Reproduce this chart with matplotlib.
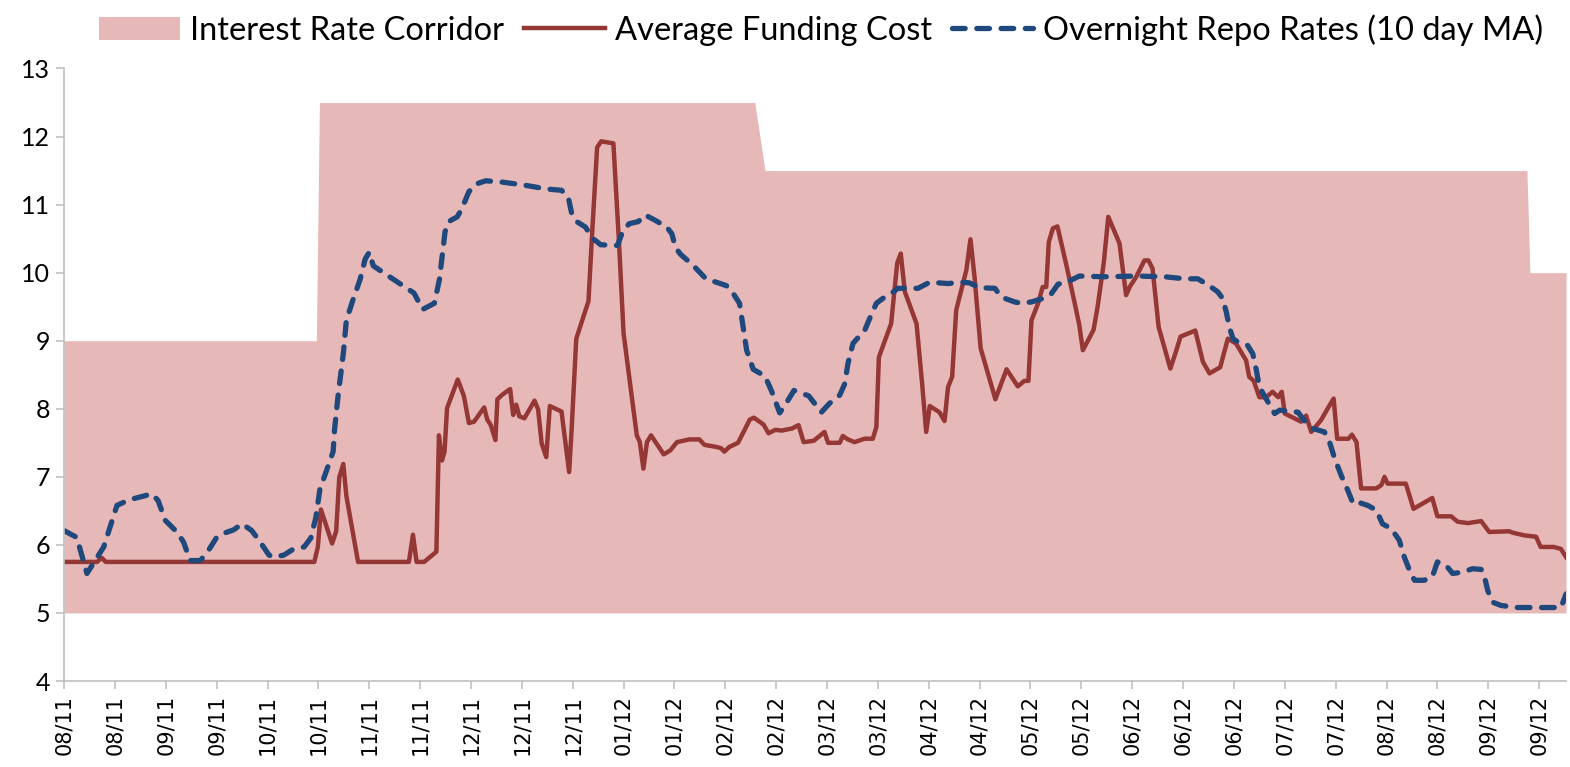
import matplotlib
matplotlib.use("Agg")
import matplotlib.pyplot as plt

# business-day index (tick every 10 points)
tick_labels = ["08/11", "08/11", "09/11", "09/11", "10/11", "10/11", "11/11", "11/11",
               "12/11", "12/11", "12/11", "01/12", "01/12", "02/12", "02/12", "03/12",
               "03/12", "04/12", "04/12", "05/12", "05/12", "06/12", "06/12", "06/12",
               "07/12", "07/12", "08/12", "08/12", "09/12", "09/12"]

corr_x = [0, 49.6, 50.2, 135.8, 137.8, 287.6, 288.2, 295.3]
corr_hi = [9, 9, 12.5, 12.5, 11.5, 11.5, 10, 10]
corr_lo = [5, 5, 5, 5, 5, 5, 5, 5]

fund_x = [0, 6.5, 7.4, 8.2, 49.2, 49.9, 50.5, 52.7, 53.5, 54.1, 54.9, 55.5, 57.8, 67.8, 68.6,
          69.3, 70.8, 73.2, 73.7, 74.3, 74.8, 75.3, 77.4, 78.6, 79.6, 80.6, 82.6, 83.2, 83.9,
          84.8, 85.2, 86.2, 87.7, 88.3, 88.9, 89.5, 90.5, 92.5, 93.2, 93.9, 94.8, 95.5, 97.8,
          99.3, 99.8, 100.7, 103.1, 103.8, 104.8, 105.6, 108, 109.1, 110, 112.6, 113.2, 113.9,
          114.6, 115.4, 117.9, 119.2, 120.5, 122.9, 124.9, 125.9, 128.2, 129.2, 129.8, 130.8,
          132.5, 133.8, 134.8, 135.6, 137.5, 138.5, 139.8, 141.1, 143.1, 144.4, 145.4, 147.4,
          149.5, 150.2, 152.5, 153.1, 154.1, 155.4, 157.4, 159.0, 159.7, 160.2, 162.6, 163.8,
          164.5, 165.3, 167.6, 168.7, 169.5, 170.2, 172.1, 173.1, 173.8, 174.6, 175.4, 177.4,
          178.2, 179.0, 180.2, 183.1, 185.3, 187.5, 188.8, 189.6, 190.2, 191.5, 192.4, 193.1,
          193.6, 194.4, 195.3, 197.0, 198.7, 199.6, 200.3, 202.4, 203.2, 204.4, 205.3, 207.5,
          208.8, 209.5, 210.8, 212.4, 213.2, 214.0, 215.2, 217.5, 218.6, 219.5, 222.4, 223.9,
          225.2, 227.3, 228.8, 230.4, 232.4, 233.0, 233.9, 235.0, 236.3, 237.6, 238.7, 239.4,
          240.0, 241.9, 243.2, 244.2, 245.2, 247.1, 248.4, 249.6, 250.3, 252.5, 253.2, 254.1,
          255.0, 258.0, 259.0, 259.6, 260.2, 263.8, 265.3, 269.0, 270.0, 272.7, 274.0, 276.0,
          278.6, 280.2, 284.1, 284.8, 287.1, 289.4, 290.3, 292.9, 294.3, 295.3]
fund_y = [5.75, 5.75, 5.81, 5.75, 5.75, 5.97, 6.52, 6.02, 6.2, 6.99, 7.19, 6.72, 5.75, 5.75, 6.15,
          5.75, 5.75, 5.90, 7.61, 7.24, 7.37, 8.01, 8.43, 8.19, 7.79, 7.81, 8.02, 7.84, 7.76,
          7.54, 8.14, 8.21, 8.29, 7.91, 8.06, 7.89, 7.86, 8.12, 7.99, 7.49, 7.29, 8.04, 7.96,
          7.07, 7.71, 9.03, 9.58, 10.55, 11.84, 11.93, 11.90, 10.45, 9.11, 7.61, 7.51, 7.12,
          7.51, 7.61, 7.33, 7.39, 7.51, 7.55, 7.55, 7.47, 7.44, 7.42, 7.37, 7.44,
          7.50, 7.69, 7.84, 7.87, 7.77, 7.64, 7.69, 7.68, 7.71, 7.76, 7.51, 7.53,
          7.66, 7.50, 7.50, 7.60, 7.55, 7.51, 7.56, 7.56, 7.73, 8.76, 9.25, 10.14,
          10.28, 9.72, 9.25, 8.37, 7.66, 8.04, 7.95, 7.82, 8.32, 8.47, 9.45, 10.04,
          10.49, 9.94, 8.89, 8.14, 8.58, 8.33, 8.41, 8.41, 9.30, 9.55, 9.79, 9.79,
          10.45, 10.65, 10.68, 10.13, 9.55, 9.23, 8.86, 9.16, 9.50, 10.14, 10.82, 10.43,
          9.67, 9.79, 9.94, 10.18, 10.18, 10.06, 9.20, 8.59, 8.84, 9.06, 9.15, 8.69,
          8.52, 8.61, 9.03, 8.96, 8.71, 8.47, 8.41, 8.17, 8.17, 8.25, 8.17, 8.25,
          7.93, 7.86, 7.81, 7.90, 7.66, 7.83, 8.00, 8.15, 7.56, 7.56, 7.62, 7.51,
          6.83, 6.83, 6.88, 7.0, 6.90, 6.90, 6.53, 6.69, 6.42, 6.42, 6.34, 6.32,
          6.35, 6.19, 6.20, 6.18, 6.14, 6.12, 5.97, 5.97, 5.94, 5.82]

repo_x = [0, 2.5, 4.5, 7.8, 10.4, 12.7, 17.3, 18.5, 19.9, 22.2, 23.5, 24.8, 26.8, 28.4, 30.0,
          31.0, 33.3, 35.0, 36.9, 38.3, 40.3, 41.2, 43.2, 44.9, 47.2, 48.5, 49.5, 50.3, 51.5,
          52.9, 53.2, 53.9, 54.9, 55.5, 56.8, 58.2, 59.2, 60.0, 60.8, 64.8, 66.8, 68.8, 70.5,
          72.8, 73.8, 74.9, 75.6, 77.3, 78.2, 79.6, 80.9, 82.9, 86.2, 90.2, 94.8, 97.8, 99.1,
          99.8, 100.8, 102.5, 104.0, 105.5, 108.8, 109.8, 111.1, 112.9, 114.2, 116.2, 118.5,
          119.5, 120.2, 121.2, 123.5, 126.2, 130.2, 131.5, 132.8, 133.5, 134.2, 135.5, 137.8,
          139.1, 140.7, 141.8, 143.5, 146.4, 148.9, 150.5, 152.5, 153.5, 154.1, 155.1, 155.8,
          157.4, 158.4, 159.7, 161.3, 162.6, 163.9, 167.9, 170.2, 173.8, 176.4, 178.0, 180.0,
          183.0, 184.3, 186.9, 188.2, 190.2, 192.4, 194.1, 195.4, 197.7, 199.6, 204.5, 211.0,
          216.4, 220.3, 222.9, 224.9, 226.8, 227.8, 228.5, 229.1, 229.8, 230.8, 232.7, 233.7,
          234.4, 235.0, 236.3, 238.0, 239.0, 242.6, 243.8, 245.5, 247.8, 248.8, 249.8, 251.1,
          252.4, 253.4, 254.3, 256.3, 258.0, 259.2, 260.9, 262.5, 263.5, 264.5, 265.5, 267.4,
          269.0, 270.0, 271.7, 273.0, 275.0, 276.9, 278.6, 279.2, 279.9, 280.8, 282.5, 285.8,
          294.3, 295.3]
repo_y = [6.21, 6.11, 5.58, 5.97, 6.58, 6.66, 6.75, 6.65, 6.36, 6.19, 6.04, 5.77, 5.77, 5.92, 6.11,
          6.16, 6.22, 6.31, 6.21, 6.07, 5.85, 5.82, 5.85, 5.93, 5.97, 6.10, 6.40, 6.82, 7.07,
          7.37, 7.71, 8.21, 8.81, 9.30, 9.60, 9.90, 10.20, 10.30, 10.10, 9.90, 9.80, 9.70, 9.46,
          9.55, 9.90, 10.6, 10.75, 10.82, 10.94, 11.19, 11.30, 11.35, 11.33, 11.29, 11.23, 11.21, 11.12,
          10.87, 10.75, 10.67, 10.50, 10.41, 10.40, 10.60, 10.72, 10.75, 10.85, 10.77, 10.67,
          10.57, 10.37, 10.27, 10.12, 9.91, 9.81, 9.70, 9.55, 9.20, 8.86, 8.58, 8.48,
          8.26, 7.94, 8.06, 8.27, 8.19, 7.95, 8.08, 8.20, 8.37, 8.66, 8.96, 9.02,
          9.15, 9.33, 9.55, 9.64, 9.69, 9.77, 9.77, 9.86, 9.84, 9.86, 9.85, 9.78,
          9.77, 9.64, 9.57, 9.55, 9.57, 9.62, 9.69, 9.83, 9.88, 9.95, 9.94, 9.95,
          9.94, 9.91, 9.91, 9.82, 9.72, 9.62, 9.42, 9.20, 9.03, 8.98, 8.93, 8.81,
          8.57, 8.32, 8.15, 7.93, 7.98, 7.95, 7.83, 7.71, 7.66, 7.51, 7.27, 7.02,
          6.80, 6.61, 6.63, 6.58, 6.51, 6.31, 6.24, 6.07, 5.82, 5.63, 5.48, 5.48,
          5.53, 5.75, 5.70, 5.58, 5.60, 5.65, 5.64, 5.55, 5.33, 5.16, 5.11, 5.08,
          5.08, 5.28]

fig = plt.figure(figsize=(15.7, 7.67), dpi=100)
ax = fig.add_axes([0.0408, 0.1121, 0.9567, 0.7986])

ax.fill_between(corr_x, corr_lo, corr_hi, color="#E6B9B8", lw=0, label="Interest Rate Corridor")
ax.plot(fund_x, fund_y, color="#953735", lw=3.2, solid_joinstyle="round",
        label="Average Funding Cost")
ax.plot(repo_x, repo_y, color="#1F497D", lw=3.8, dashes=(2.4, 2.2), dash_capstyle="round",
        label="Overnight Repo Rates (10 day MA)")

ax.set_xlim(0, 295.3)
ax.set_ylim(4, 13)
ax.set_yticks(range(4, 14))
ax.set_xticks(range(0, 291, 10))
ax.set_xticklabels(tick_labels, rotation=90, fontsize=15, family="DejaVu Sans")
for t in ax.get_yticklabels():
    t.set_fontsize(18)
    t.set_family("Lato")

for s in ["top", "right"]:
    ax.spines[s].set_visible(False)
for s in ["left", "bottom"]:
    ax.spines[s].set_color("#BFBFBF")
    ax.spines[s].set_linewidth(1.2)
ax.tick_params(axis="both", color="#BFBFBF", length=6, width=1.2, direction="out", pad=4)

fig.legend(loc="upper center", bbox_to_anchor=(0.523, 1.02), ncol=3, frameon=False,
           prop={"family": "Lato", "size": 23.5}, handlelength=2.5, handletextpad=0.3,
           columnspacing=0.6)

fig.savefig("out.png", dpi=100)
